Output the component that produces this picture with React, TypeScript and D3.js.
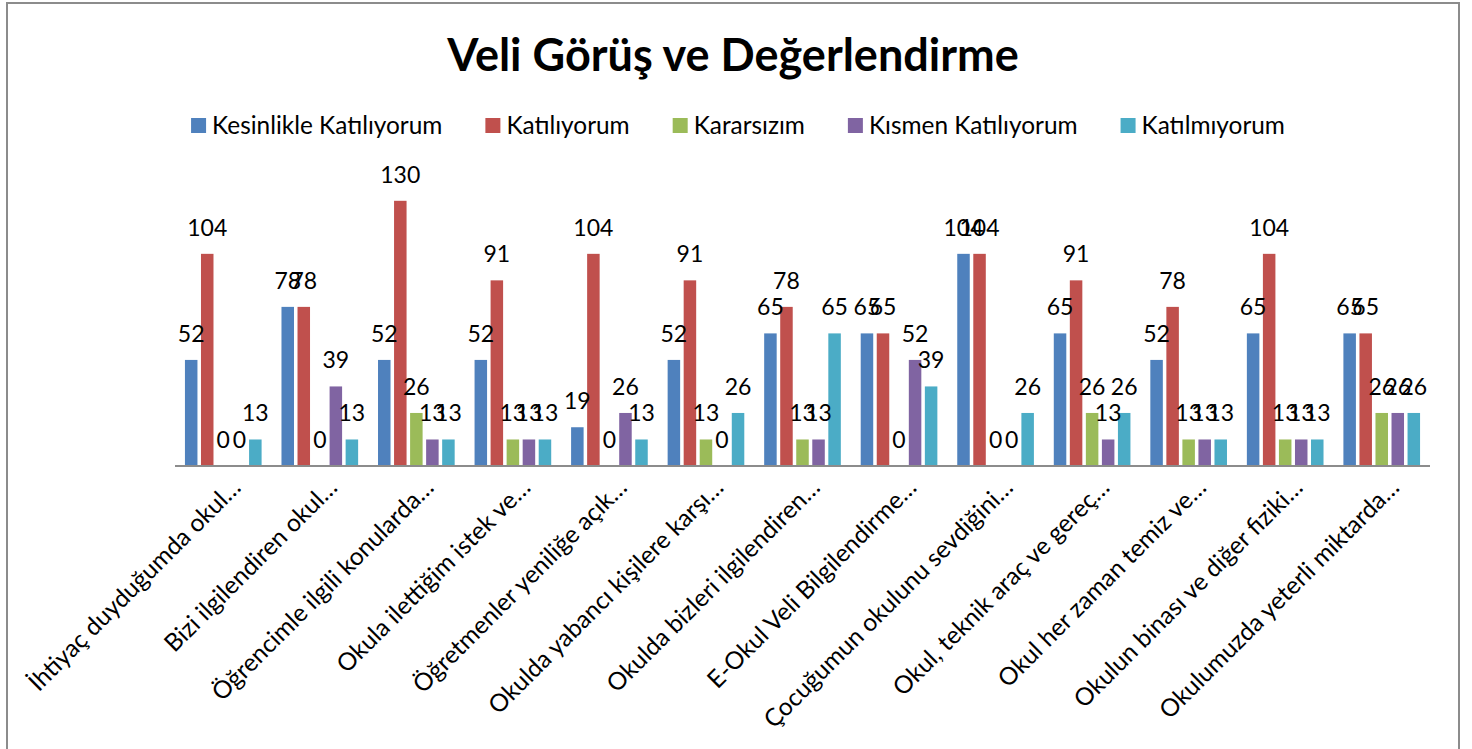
import React, { useEffect, useRef } from "react";
import * as d3 from "d3";

const categories = [
  "İhtiyaç duyduğumda okul…",
  "Bizi ilgilendiren okul…",
  "Öğrencimle ilgili konularda…",
  "Okula ilettiğim istek ve…",
  "Öğretmenler yeniliğe açık…",
  "Okulda yabancı kişilere karşı…",
  "Okulda bizleri ilgilendiren…",
  "E-Okul Veli Bilgilendirme…",
  "Çocuğumun okulunu sevdiğini…",
  "Okul, teknik araç ve gereç…",
  "Okul her zaman temiz ve…",
  "Okulun binası ve diğer fiziki…",
  "Okulumuzda yeterli miktarda…",
];

const seriesNames = [
  "Kesinlikle Katılıyorum",
  "Katılıyorum",
  "Kararsızım",
  "Kısmen Katılıyorum",
  "Katılmıyorum",
];
const colors = ["#4F81BD", "#C0504D", "#9BBB59", "#8064A2", "#4BACC6"];

const kesinlikle = [52, 78, 52, 52, 19, 52, 65, 65, 104, 65, 52, 65, 65];
const katiliyorum = [104, 78, 130, 91, 104, 91, 78, 65, 104, 91, 78, 104, 65];
const kararsizim = [0, 0, 26, 13, 0, 13, 13, 0, 0, 26, 13, 13, 26];
const kismen = [0, 39, 13, 13, 26, 0, 13, 52, 0, 13, 13, 13, 26];
const katilmiyorum = [13, 13, 13, 13, 13, 26, 65, 39, 26, 26, 13, 13, 26];

const seriesValues = [kesinlikle, katiliyorum, kararsizim, kismen, katilmiyorum];

const W = 1472;
const H = 749;
const FONT = "Lato, 'Open Sans', sans-serif";

export default function App() {
  const ref = useRef<SVGSVGElement>(null);

  useEffect(() => {
    document.body.style.margin = "0";
    const svg = d3.select(ref.current);
    svg.selectAll("*").remove();

    svg.append("rect").attr("width", W).attr("height", H).attr("fill", "#fff");
    // chart frame
    svg.append("rect")
      .attr("x", 7).attr("y", 3)
      .attr("width", 1452).attr("height", H + 20)
      .attr("fill", "none").attr("stroke", "#8c8c8c").attr("stroke-width", 2);

    // title
    svg.append("text")
      .attr("x", 733).attr("y", 71)
      .attr("text-anchor", "middle")
      .style("font-family", FONT).style("font-weight", 700).style("font-size", "45px")
      .text("Veli Görüş ve Değerlendirme");

    // legend, laid out from measured widths
    const leg = svg.append("g");
    let lx = 0;
    seriesNames.forEach((name, i) => {
      const g = leg.append("g").attr("transform", `translate(${lx},0)`);
      g.append("rect").attr("x", 0).attr("y", -16).attr("width", 15).attr("height", 15).attr("fill", colors[i]);
      const t = g.append("text")
        .attr("x", 21).attr("y", 0)
        .style("font-family", FONT).style("font-size", "24.4px")
        .text(name);
      const tw = (t.node() as SVGTextElement).getComputedTextLength();
      lx += 21 + tw + 43;
    });
    const legW = lx - 43;
    leg.attr("transform", `translate(${738 - legW / 2},134)`);

    const x0 = d3.scaleBand<string>().domain(categories).range([175, 1430]);
    const x1 = d3.scaleBand<number>()
      .domain(d3.range(seriesNames.length))
      .range([0, x0.bandwidth()])
      .paddingInner(0.22)
      .paddingOuter(0.62);
    const y = d3.scaleLinear().domain([0, 140]).range([466, 466 - 140 * 2.04]);

    // bars
    seriesValues.forEach((vals, s) => {
      svg.append("g").selectAll("rect")
        .data(vals)
        .join("rect")
        .attr("x", (d, i) => (x0(categories[i]) ?? 0) + (x1(s) ?? 0))
        .attr("y", d => y(d))
        .attr("width", x1.bandwidth())
        .attr("height", d => y(0) - y(d))
        .attr("fill", colors[s]);
    });

    // axis line
    svg.append("line")
      .attr("x1", x0.range()[0]).attr("x2", x0.range()[1])
      .attr("y1", y(0)).attr("y2", y(0))
      .attr("stroke", "#8c8c8c").attr("stroke-width", 2);

    // value labels
    seriesValues.forEach((vals, s) => {
      svg.append("g").selectAll("text")
        .data(vals)
        .join("text")
        .attr("x", (d, i) => (x0(categories[i]) ?? 0) + (x1(s) ?? 0) + x1.bandwidth() / 2)
        .attr("y", d => y(d) - 18)
        .attr("text-anchor", "middle")
        .style("font-family", FONT).style("font-size", "23px")
        .text(d => d);
    });

    // category labels
    svg.append("g").selectAll("text")
      .data(categories)
      .join("text")
      .attr("transform", d => `translate(${(x0(d) ?? 0) + x0.bandwidth() / 2 + 19},489) rotate(-45)`)
      .attr("text-anchor", "end")
      .style("font-family", FONT).style("font-size", "24.5px")
      .text(d => d);
  }, []);

  return <svg ref={ref} width={W} height={H} style={{ display: "block" }} />;
}
